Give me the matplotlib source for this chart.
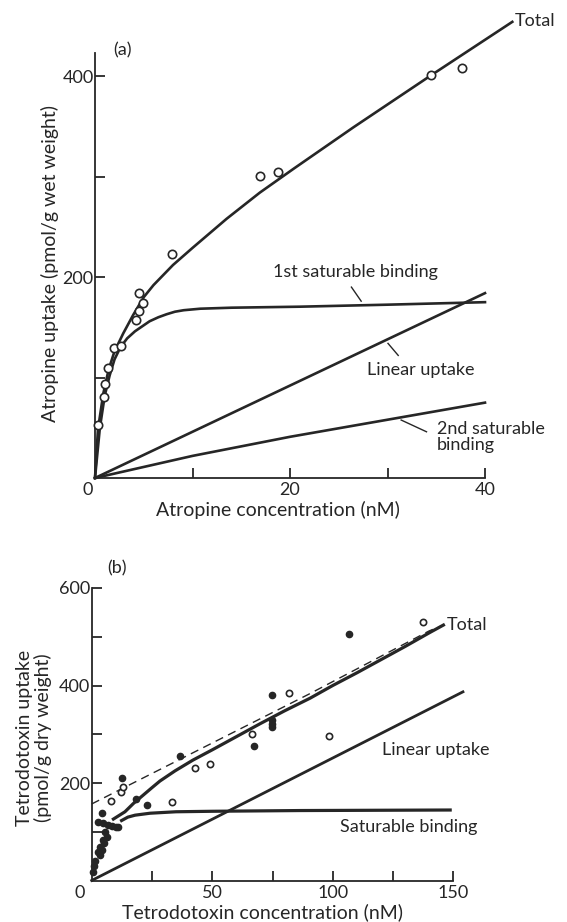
import matplotlib
matplotlib.use("Agg")
import matplotlib.pyplot as plt

# ---- panel (a): atropine ----
atr_x = [0.34, 0.92, 1.03, 1.37, 1.98, 2.63, 4.17, 4.55, 4.95, 4.55, 7.9, 16.9, 18.8, 34.5, 37.6]
atr_y = [53, 81, 94, 109, 129, 131, 157, 166, 174, 184, 223, 301, 305, 401, 408]

tot_a_x = [0, 0.3, 0.85, 1.4, 2.0, 2.9, 3.9, 5.0, 6.0, 6.7, 8.0, 10.0, 13.5, 16.9, 20.4, 26.5, 34.5, 42.8]
tot_a_y = [0, 48, 84, 108, 126, 144, 162, 180, 192, 199, 212, 229, 258, 284, 308, 349, 401, 454]

sat1_x = [0, 0.5, 1.0, 1.5, 2.0, 2.6, 3.3, 4.1, 5.0, 5.6, 6.5, 7.35, 8.2, 9.1, 10.8, 14, 21, 30, 40]
sat1_y = [0, 50, 82, 102, 118, 130, 139, 146, 152, 156, 160, 163, 165.5, 167, 168.5, 169.5, 170.5, 172.5, 175]

lin_a_x = [0, 40]
lin_a_y = [0, 184]

sat2_x = [0, 10, 20, 30, 40]
sat2_y = [0, 22, 41, 58, 75]

# ---- panel (b): tetrodotoxin ----
ttx_open_x = [8.0, 12.2, 13.1, 33.4, 42.9, 49.1, 66.4, 81.9, 98.6, 137.6]
ttx_open_y = [163, 181, 191, 162, 231, 240, 300, 385, 297, 531]

ttx_fill_x = [0.7, 1.1, 1.4, 2.7, 3.4, 3.4, 4.1, 4.8, 5.2, 5.5, 6.2, 2.5, 4.4, 4.8, 6.6, 8.3,
              10.0, 11.0, 12.7, 18.3, 23.1, 36.6, 67.5, 74.7, 74.7, 74.9, 74.9, 106.9]
ttx_fill_y = [18, 30, 39, 59, 52, 69, 63, 83, 76, 100, 90, 119, 138, 117, 114, 112,
              109, 109, 211, 167, 155, 255, 276, 315, 322, 330, 380, 506]

tot_b_x = [9, 13.8, 17.3, 24.9, 28.3, 34.6, 42, 50, 60, 70, 80, 90.6, 100, 110, 120, 130, 140, 145.9]
tot_b_y = [126, 141, 158, 190, 204, 225, 247, 268, 295, 322, 348, 374, 400, 426, 453, 480, 508, 524]

dash_b_x = [0, 10, 20, 30, 40, 50, 60, 70, 80, 90, 100, 110, 120, 130, 140, 145.9]
dash_b_y = [157, 182, 207, 232, 257, 282, 307, 332, 357, 382, 408, 434, 460, 486, 512, 524]

sat_b_x = [12.4, 15, 18, 24.2, 35, 50, 86.5, 148.7]
sat_b_y = [123, 130, 134, 138, 141, 142, 143.5, 144.6]

lin_b_x = [0, 154]
lin_b_y = [0, 387]

INK = "#262626"
W, H = 567, 922
plt.rcParams["font.family"] = ["Lato", "DejaVu Sans"]
plt.rcParams["text.color"] = INK

fig = plt.figure(figsize=(W / 100, H / 100), dpi=100)


def px(x, y):
    return x / W, 1 - y / H


def style_axes(ax):
    for s in ["top", "right"]:
        ax.spines[s].set_visible(False)
    for s in ["left", "bottom"]:
        ax.spines[s].set_color(INK)
        ax.spines[s].set_linewidth(1.3)
    ax.tick_params(direction="in", length=7.5, width=1.3, color=INK,
                   labelsize=13, labelcolor=INK)
    ax.tick_params(axis="y", pad=1)
    ax.tick_params(axis="x", pad=3)


# panel (a)
ax1 = fig.add_axes([95 / W, (H - 478) / H, 390 / W, 425 / H])
ax1.set_xlim(0, 40)
ax1.set_ylim(0, 423)
style_axes(ax1)
ax1.set_xticks([10, 20, 30, 40])
ax1.set_xticklabels(["", "20", "", "40"])
ax1.set_yticks([100, 200, 300, 400])
ax1.set_yticklabels(["", "200", "", "400"])

ax1.plot(tot_a_x, tot_a_y, color=INK, lw=1.9, clip_on=False)
ax1.plot(sat1_x, sat1_y, color=INK, lw=1.9, clip_on=False)
ax1.plot(lin_a_x, lin_a_y, color=INK, lw=1.9, clip_on=False)
ax1.plot(sat2_x, sat2_y, color=INK, lw=1.9, clip_on=False)
ax1.plot(atr_x, atr_y, "o", ms=6, mfc="white", mec=INK, mew=1.2, clip_on=False, zorder=5)

ax1.text(43.1, 455, "Total", fontsize=13, va="center", ha="left")
ax1.text(18.3, 205, "1st saturable binding", fontsize=13, va="center", ha="left")
ax1.text(27.9, 107, "Linear uptake", fontsize=13, va="center", ha="left")
ax1.text(35.1, 41, "2nd saturable\nbinding", fontsize=13, va="center", ha="left", linespacing=1.0)
ax1.plot([26.3, 27.3], [190, 176], color=INK, lw=1.0, clip_on=False)
ax1.plot([30.05, 31.1], [134, 122], color=INK, lw=1.0, clip_on=False)
ax1.plot([31.4, 34.0], [57.7, 46], color=INK, lw=1.0, clip_on=False)

fig.text(*px(122, 50), "(a)", fontsize=13, ha="center", va="center")
fig.text(*px(88, 490), "0", fontsize=13, ha="center", va="center")
fig.text(*px(50, 263), "Atropine uptake (pmol/g wet weight)", fontsize=14,
         rotation=90, ha="center", va="center")
fig.text(*px(278, 510), "Atropine concentration (nM)", fontsize=14, ha="center", va="center")

# panel (b)
ax2 = fig.add_axes([91.7 / W, (H - 880.5) / H, 361.6 / W, 292.5 / H])
ax2.set_xlim(0, 150)
ax2.set_ylim(0, 600)
style_axes(ax2)
ax2.set_xticks([25, 50, 75, 100, 125, 150])
ax2.set_xticklabels(["", "50", "", "100", "", "150"])
ax2.set_yticks([100, 200, 300, 400, 500, 600])
ax2.set_yticklabels(["", "200", "", "400", "", "600"])

ax2.plot(dash_b_x, dash_b_y, color=INK, lw=1.0, ls=(0, (6, 4)), clip_on=False)
ax2.plot(tot_b_x, tot_b_y, color=INK, lw=2.3, clip_on=False)
ax2.plot(sat_b_x, sat_b_y, color=INK, lw=2.3, clip_on=False)
ax2.plot(lin_b_x, lin_b_y, color=INK, lw=2.0, clip_on=False)
ax2.plot(ttx_fill_x, ttx_fill_y, "o", ms=4.5, mfc=INK, mec=INK, clip_on=False, zorder=5)
ax2.plot(ttx_open_x, ttx_open_y, "o", ms=4.5, mfc="white", mec=INK, mew=1.2, clip_on=False, zorder=5)

ax2.text(147.3, 525, "Total", fontsize=13, va="center", ha="left")
ax2.text(120.3, 268, "Linear uptake", fontsize=13, va="center", ha="left")
ax2.text(103, 110, "Saturable binding", fontsize=13, va="center", ha="left")

fig.text(*px(117, 568), "(b)", fontsize=13, ha="center", va="center")
fig.text(*px(80, 893), "0", fontsize=13, ha="center", va="center")
fig.text(*px(34, 738), "Tetrodotoxin uptake\n(pmol/g dry weight)", fontsize=14,
         rotation=90, ha="center", va="center", linespacing=1.1)
fig.text(*px(262, 912), "Tetrodotoxin concentration (nM)", fontsize=14, ha="center", va="center")

fig.savefig("out.png", dpi=100)
